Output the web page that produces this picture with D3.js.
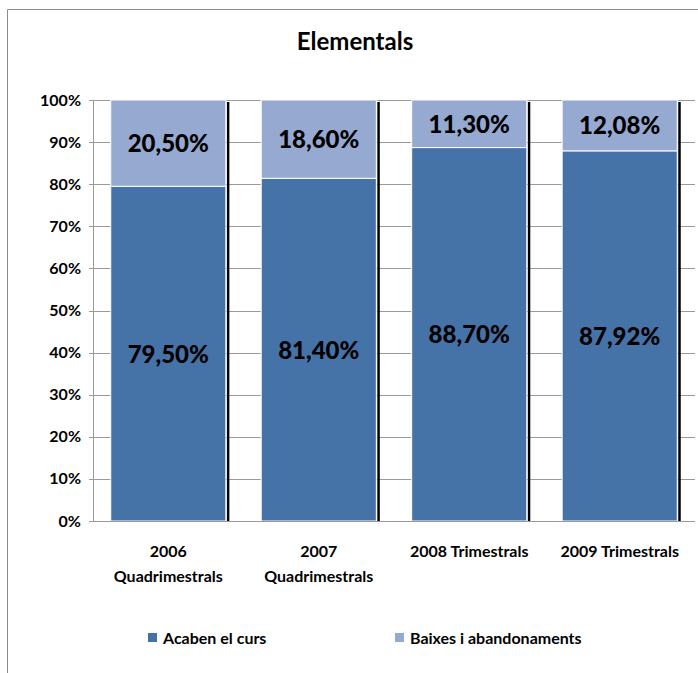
<!DOCTYPE html>
<html>
<head>
<meta charset="utf-8">
<script src="https://cdn.jsdelivr.net/npm/d3@7"></script>
<style>
  body { margin: 0; background: #fff; }
  text { font-family: Lato, "Open Sans", sans-serif; font-weight: bold; fill: #000; }
  .heavy { font-weight: 900; }
</style>
</head>
<body>
<div id="chart"></div>
<script>
// data
const categories = [["2006", "Quadrimestrals"], ["2007", "Quadrimestrals"], ["2008 Trimestrals"], ["2009 Trimestrals"]]
const acaben = [79.50, 81.40, 88.70, 87.92]
const baixes = [20.50, 18.60, 11.30, 12.08]
const seriesNames = ["Acaben el curs", "Baixes i abandonaments"]
const colors = ["#4572a7", "#95a9d1"]
const yTicks = [0, 10, 20, 30, 40, 50, 60, 70, 80, 90, 100]

const width = 698
const height = 673
const margin = { top: 100, right: 3, bottom: 152, left: 93 }
const fmt = v => v.toFixed(2).replace(".", ",") + "%"

const svg = d3.select("#chart")
  .append("svg")
    .attr("width", width)
    .attr("height", height)

// outer frame
svg.append("path")
  .attr("d", `M7.5,${height} V9.5 H${width}`)
  .attr("fill", "none")
  .attr("stroke", "#8c8c8c")
  .attr("stroke-width", 1)

svg.append("text")
  .attr("x", 355)
  .attr("y", 50)
  .attr("text-anchor", "middle")
  .style("font-size", "24px")
  .text("Elementals")

const x = d3.scaleBand()
  .domain(d3.range(categories.length))
  .range([margin.left, width - margin.right])
  .paddingInner(0.235)
  .paddingOuter(0.118)

const y = d3.scaleLinear()
  .domain([0, 100])
  .range([height - margin.bottom, margin.top])

// gridlines
svg.append("g")
  .selectAll("line")
  .data(yTicks)
  .join("line")
    .attr("x1", margin.left - 4)
    .attr("x2", width - margin.right)
    .attr("y1", d => Math.round(y(d)) + 0.5)
    .attr("y2", d => Math.round(y(d)) + 0.5)
    .attr("stroke", "#9a9a9a")

svg.append("line")
  .attr("x1", margin.left + 0.5)
  .attr("x2", margin.left + 0.5)
  .attr("y1", y(100))
  .attr("y2", y(0))
  .attr("stroke", "#9a9a9a")

svg.append("g")
  .selectAll("text")
  .data(yTicks)
  .join("text")
    .attr("x", margin.left - 12)
    .attr("y", d => y(d) + 5.5)
    .attr("text-anchor", "end")
    .style("font-size", "16px")
    .text(d => d + "%")

// stacked data
const table = categories.map((c, i) => ({ i: i, a: acaben[i], b: baixes[i] }))
const stack = d3.stack().keys(["a", "b"])(table)

// black shadow on the right of bars
svg.append("g")
  .selectAll("rect")
  .data(table)
  .join("rect")
    .attr("x", d => x(d.i) + x.bandwidth() + 1)
    .attr("width", 2.5)
    .attr("y", y(100) + 2)
    .attr("height", y(0) - y(100) - 2)
    .attr("fill", "#000")

stack.forEach((s, k) => {
  svg.append("g")
    .selectAll("rect")
    .data(s)
    .join("rect")
      .attr("x", d => x(d.data.i))
      .attr("width", x.bandwidth())
      .attr("y", d => y(d[1]))
      .attr("height", d => y(d[0]) - y(d[1]))
      .attr("fill", colors[k])
      .attr("stroke", "#fff")
      .attr("stroke-width", 1)

  svg.append("g")
    .selectAll("text")
    .data(s)
    .join("text")
      .attr("class", "heavy")
      .attr("x", d => x(d.data.i) + x.bandwidth() / 2)
      .attr("y", d => y((d[0] + d[1]) / 2) + 9)
      .attr("text-anchor", "middle")
      .style("font-size", "24px")
      .text(d => fmt(d[1] - d[0]))
})

// x axis line
svg.append("line")
  .attr("x1", margin.left)
  .attr("x2", width - margin.right)
  .attr("y1", y(0) + 0.5)
  .attr("y2", y(0) + 0.5)
  .attr("stroke", "#9a9a9a")

// category labels
svg.append("g")
  .selectAll("text")
  .data(categories)
  .join("text")
    .attr("x", (d, i) => x(i) + x.bandwidth() / 2)
    .attr("y", 557)
    .attr("text-anchor", "middle")
    .style("font-size", "16px")
    .selectAll("tspan")
    .data(d => d)
    .join("tspan")
      .attr("x", function() { return this.parentNode.getAttribute("x") })
      .attr("dy", (d, j) => j === 0 ? 0 : 25)
      .text(d => d)

// legend
const legendX = [148, 395]
const legend = svg.append("g")
  .selectAll("g")
  .data(seriesNames)
  .join("g")
    .attr("transform", (d, i) => `translate(${legendX[i]},633)`)

legend.append("rect")
  .attr("width", 9)
  .attr("height", 9)
  .attr("fill", (d, i) => colors[i])

legend.append("text")
  .attr("x", 15)
  .attr("y", 11)
  .style("font-size", "16px")
  .text(d => d)
</script>
</body>
</html>
